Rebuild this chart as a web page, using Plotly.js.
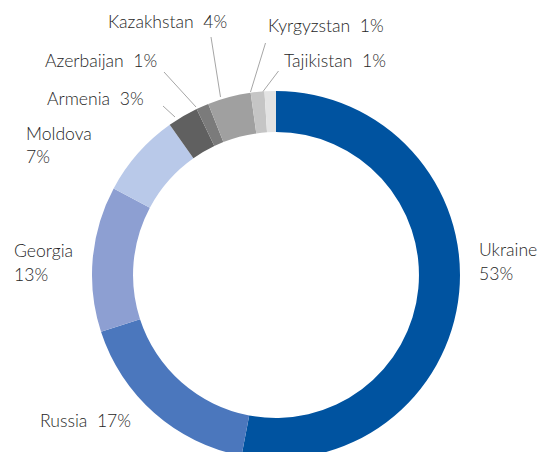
<!DOCTYPE html>
<html>
<head>
<meta charset="utf-8">
<script src="https://cdn.plot.ly/plotly-3.0.1.min.js"></script>
<style>
html,body{margin:0;padding:0;overflow:hidden;background:#fff;}
#chart{width:540px;height:460px;}
</style>
</head>
<body>
<div id="chart"></div>
<script>
// ---- data ----
var countries = ["Ukraine","Russia","Georgia","Moldova","Armenia","Azerbaijan","Kazakhstan","Kyrgyzstan","Tajikistan"];
var shares = [53.0, 17.0, 12.8, 7.4, 2.7, 1.1, 3.8, 1.2, 1.0];
var sliceColors = ["#0053a0","#4b77bd","#8d9fd2","#b9c9e9","#606060","#7b7b7b","#a0a0a0","#c5c5c5","#e3e3e3"];

// ---- layout config (pixel positions of labels / leader lines) ----
var W = 540, H = 460;
var labelCfg = {
  "Ukraine":    {x:477, y:[249.5, 273.5]},
  "Russia":     {x:38,  y:[420]},
  "Georgia":    {x:12,  y:[250, 274.5]},
  "Moldova":    {x:24,  y:[133, 157]},
  "Armenia":    {x:45,  y:[98]},
  "Azerbaijan": {x:43,  y:[60]},
  "Kazakhstan": {x:106, y:[21.5]},
  "Kyrgyzstan": {x:266, y:[25]},
  "Tajikistan": {x:282, y:[60]}
};
var leaders = {
  "Armenia":    [[163,106],[175,117]],
  "Azerbaijan": [[164,72],[196,107]],
  "Kazakhstan": [[211,37],[220.5,97]],
  "Kyrgyzstan": [[265.5,43],[250.5,92]],
  "Tajikistan": [[278.5,71],[263,91.5]]
};

function px(x){return x/W;}
function py(y){return 1 - y/H;}

var font = {family:"Lato, sans-serif", size:17.6, weight:300, color:"#262626"};
var annotations = [];
var shapes = [];
countries.forEach(function(c, i){
  var cfg = labelCfg[c];
  var pct = Math.round(shares[i]) + "%";
  var lines = cfg.y.length > 1 ? [c, pct] : [c + "\u00a0\u00a0" + pct];
  lines.forEach(function(t, k){
    annotations.push({
      xref:"paper", yref:"paper", x:px(cfg.x), y:py(cfg.y[k]),
      xanchor:"left", yanchor:"middle", text:t, showarrow:false, font:font
    });
  });
  if (leaders[c]) {
    var l = leaders[c];
    shapes.push({type:"line", xref:"paper", yref:"paper",
      x0:px(l[0][0]), y0:py(l[0][1]), x1:px(l[1][0]), y1:py(l[1][1]),
      line:{color:"#a6a6a6", width:1}});
  }
});

var trace = {
  type:"pie",
  labels:countries,
  values:shares,
  marker:{colors:sliceColors, line:{width:0}},
  hole:0.777,
  sort:false,
  direction:"clockwise",
  rotation:0,
  textinfo:"none",
  hoverinfo:"skip",
  domain:{x:[92/W, 460/W], y:[1 - 459/H, 1 - 91/H]}
};

var layout = {
  width:W, height:H,
  margin:{l:0,r:0,t:0,b:0},
  showlegend:false,
  paper_bgcolor:"#fff",
  annotations:annotations,
  shapes:shapes
};

Plotly.newPlot("chart", [trace], layout, {staticPlot:true, displayModeBar:false});
</script>
</body>
</html>
